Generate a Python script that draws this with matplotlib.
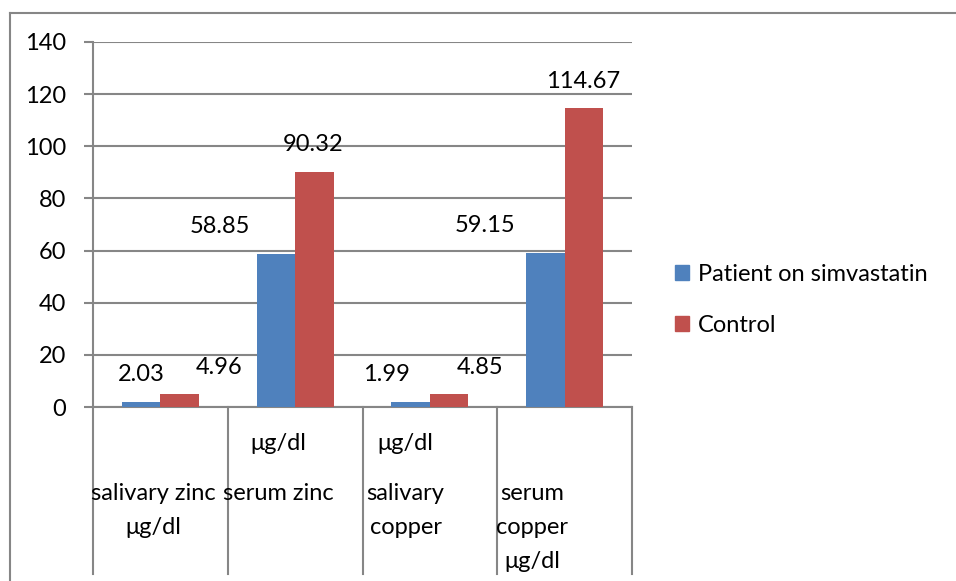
import numpy as np
import matplotlib
matplotlib.use('Agg')
import matplotlib.pyplot as plt
from matplotlib.lines import Line2D

# data
categories = ['salivary zinc', 'serum zinc', 'salivary copper', 'serum copper']
patient = [2.03, 58.85, 1.99, 59.15]
control = [4.96, 90.32, 4.85, 114.67]
series_names = ['Patient on simvastatin', 'Control']

# category label rows as drawn in the original (text, row)
cat_rows = [
    [('salivary zinc', 1), ('\u03bcg/dl', 2)],
    [('\u03bcg/dl', 0), ('serum zinc', 1)],
    [('\u03bcg/dl', 0), ('salivary', 1), ('copper', 2)],
    [('serum', 1), ('copper', 2), ('\u03bcg/dl', 3)],
]
cat_shift = [-0.056, -0.126, -0.18, -0.24]
# horizontal nudges of the data labels (pixels), as in the picture
patient_lbl_dx = [0, -56, -24, -60]
control_lbl_dx = [39, -1, 31, -1]

blue = '#4F81BD'
red = '#C0504D'
grey = '#868686'

plt.rcParams['font.family'] = ['Lato', 'DejaVu Sans']
fs = 17

W, H = 956, 581
fig = plt.figure(figsize=(W / 100, H / 100), dpi=100)
ax = fig.add_axes([93 / W, (H - 407) / H, (632 - 93) / W, (407 - 42) / H])

x = np.arange(len(categories))
bw = 0.286
b1 = ax.bar(x - bw / 2, patient, bw, color=blue, zorder=3)
b2 = ax.bar(x + bw / 2, control, bw, color=red, zorder=3)

pt = 0.72  # points per pixel
for i in range(len(categories)):
    ax.annotate('{:.2f}'.format(patient[i]), (x[i] - bw / 2, patient[i]),
                xytext=(patient_lbl_dx[i] * pt, 27 * pt), textcoords='offset points',
                ha='center', va='center', fontsize=fs)
    ax.annotate('{:.2f}'.format(control[i]), (x[i] + bw / 2, control[i]),
                xytext=(control_lbl_dx[i] * pt, 27 * pt), textcoords='offset points',
                ha='center', va='center', fontsize=fs)

ax.set_xlim(-0.5, 3.5)
ax.set_ylim(0, 140)
ax.set_yticks(np.arange(0, 141, 20))
ax.yaxis.grid(True, color=grey, lw=1.5, zorder=0)
ax.set_axisbelow(True)
ax.set_xticks([])
ax.tick_params(axis='y', length=6.5, width=1.5, color=grey, labelsize=fs, pad=13)
for s in ['top', 'right']:
    ax.spines[s].set_visible(False)
for s in ['left', 'bottom']:
    ax.spines[s].set_color(grey)
    ax.spines[s].set_linewidth(1.5)

# category separators and labels below the axis
trans = ax.get_xaxis_transform()
depth = (574 - 407) / (407 - 42)
for xs in np.arange(-0.5, 4, 1):
    ax.plot([xs, xs], [0, -depth], color=grey, lw=1.5, transform=trans, clip_on=False)
row_y = [443, 494, 527, 561]
for i, rows in enumerate(cat_rows):
    for txt, r in rows:
        ax.text(x[i] + cat_shift[i], -(row_y[r] - 407) / (407 - 42), txt,
                transform=trans, ha='center', va='center', fontsize=fs)

# legend
handles = [plt.Rectangle((0, 0), 1, 1, color=blue), plt.Rectangle((0, 0), 1, 1, color=red)]
fig.legend(handles, series_names, loc='center left', bbox_to_anchor=(654 / W, 1 - 300 / H),
           frameon=False, fontsize=fs, handlelength=0.6, handleheight=0.6,
           handletextpad=0.35, labelspacing=1.25)

# chart border (left and top visible)
fig.add_artist(Line2D([10 / W, 10 / W], [0, 1 - 13 / H], color=grey, lw=1.5))
fig.add_artist(Line2D([10 / W, 1], [1 - 13 / H, 1 - 13 / H], color=grey, lw=1.5))

fig.savefig('out.png', dpi=100)
